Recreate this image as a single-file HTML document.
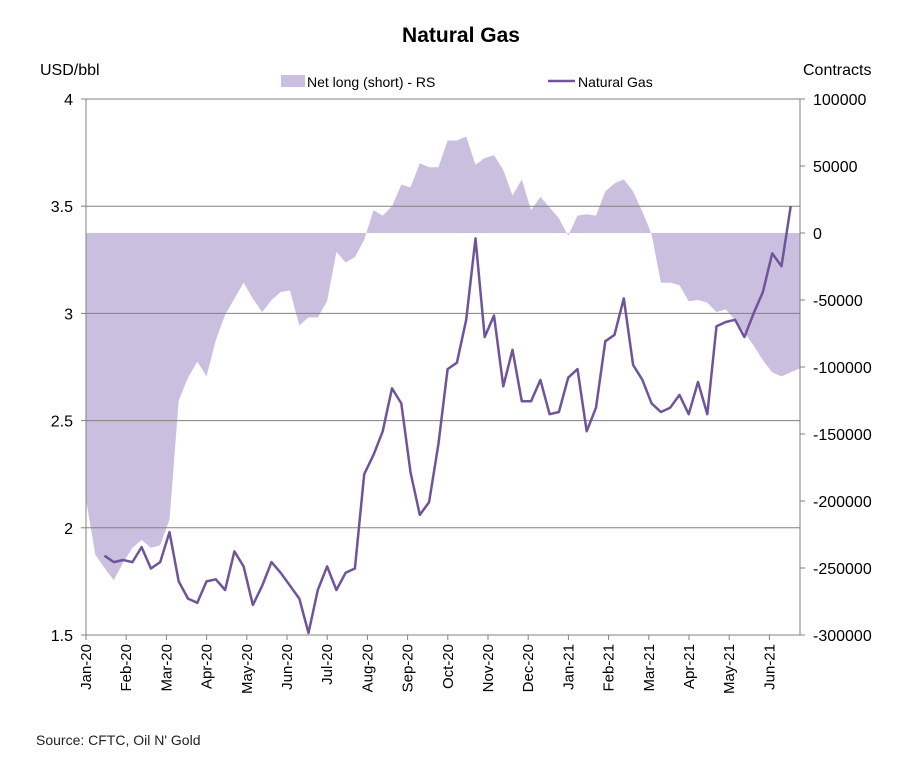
<!DOCTYPE html>
<html><head><meta charset="utf-8"><style>
body{margin:0;background:#fff;}
svg{display:block;font-family:"Liberation Sans",Arial,sans-serif;}
</style></head><body>
<svg id="chart" width="914" height="767" viewBox="0 0 914 767">
<text x="461" y="42" text-anchor="middle" font-size="21" font-weight="bold">Natural Gas</text>
<text x="40" y="75" font-size="16">USD/bbl</text>
<text x="803" y="75" font-size="16">Contracts</text>
<rect x="281" y="75" width="24" height="12" fill="#cbbfe0"/>
<text x="307" y="87" font-size="14">Net long (short) - RS</text>
<line x1="548" y1="81" x2="575" y2="81" stroke="#6f5499" stroke-width="2.5"/>
<text x="578" y="87" font-size="14">Natural Gas</text>
<g id="plot"></g>
<text x="36" y="745" font-size="14" fill="#222">Source: CFTC, Oil N' Gold</text>
</svg>
<script>
const monthLabels=["Jan-20","Feb-20","Mar-20","Apr-20","May-20","Jun-20","Jul-20","Aug-20","Sep-20","Oct-20","Nov-20","Dec-20","Jan-21","Feb-21","Mar-21","Apr-21","May-21","Jun-21"];
const leftTicks=[1.5,2,2.5,3,3.5,4];
const rightTicks=[-300000,-250000,-200000,-150000,-100000,-50000,0,50000,100000];
const netLong=[-199000,-240000,-250000,-259000,-246000,-235000,-229000,-235000,-233000,-214000,-125000,-108000,-96000,-107000,-80000,-61000,-49000,-37000,-49000,-59000,-50000,-44000,-43000,-69000,-63000,-63000,-51000,-14000,-22000,-18000,-5000,17000,13000,20000,36000,34000,52000,49000,49000,69000,69000,72000,51000,56000,58000,47000,28000,40000,17000,27000,19000,11000,-2000,13000,14000,13000,31000,37000,40000,31000,16000,-1000,-37000,-37000,-39000,-51000,-50000,-52000,-59000,-57000,-65000,-74000,-84000,-95000,-104000,-107000,-104000,-101000];
const priceStart=2;
const price=[1.87,1.84,1.85,1.84,1.91,1.81,1.84,1.98,1.75,1.67,1.65,1.75,1.76,1.71,1.89,1.82,1.64,1.73,1.84,1.79,1.73,1.67,1.51,1.71,1.82,1.71,1.79,1.81,2.25,2.34,2.45,2.65,2.58,2.26,2.06,2.12,2.39,2.74,2.77,2.97,3.35,2.89,2.99,2.66,2.83,2.59,2.59,2.69,2.53,2.54,2.70,2.74,2.45,2.56,2.87,2.90,3.07,2.76,2.69,2.58,2.54,2.56,2.62,2.53,2.68,2.53,2.94,2.96,2.97,2.89,3.00,3.10,3.28,3.22,3.50];

const X0=86,X1=800,Y0=99,Y1=635;
const weekStep=(X1-X0)/(netLong.length-1);
const xW=i=>X0+i*weekStep;
const xM=m=>X0+m*40.2;
const yL=v=>Y1-(v-1.5)/(4-1.5)*(Y1-Y0);
const yR=v=>Y1-(v+300000)/400000*(Y1-Y0);
const NS="http://www.w3.org/2000/svg";
const g=document.getElementById('plot');
function mk(t,a){const e=document.createElementNS(NS,t);for(const k in a)e.setAttribute(k,a[k]);g.appendChild(e);return e;}

let d=`M${xW(0)},${yR(0)}`;
netLong.forEach((v,i)=>{d+=` L${xW(i).toFixed(1)},${yR(v).toFixed(1)}`;});
d+=` L${xW(netLong.length-1)},${yR(0)} Z`;
const area=mk('path',{d:d,fill:'#cbbfe0'});



leftTicks.forEach(v=>{
  if(v===1.5)return;
  const l=mk('line',{x1:X0,x2:X1,y1:yL(v),y2:yL(v),stroke:'#808080','stroke-width':1});
  
  
});

const ax=mk('path',{d:`M${X0},${Y0} V${Y1} H${X1} V${Y0}`,fill:'none',stroke:'#808080','stroke-width':1});



leftTicks.forEach(v=>{
  const t=mk('text',{x:73,y:yL(v)+6,'text-anchor':'end','font-size':16});
  t.textContent=String(v);
  
  
  mk('line',{x1:X0-5,x2:X0,y1:yL(v),y2:yL(v),stroke:'#808080'});
});
rightTicks.forEach(v=>{
  const t=mk('text',{x:813,y:yR(v)+6,'font-size':16});
  t.textContent=String(v);
  
  
  mk('line',{x1:X1,x2:X1+5,y1:yR(v),y2:yR(v),stroke:'#808080'});
});
monthLabels.forEach((m,i)=>{
  const x=xM(i);
  mk('line',{x1:x,x2:x,y1:Y1,y2:Y1+5,stroke:'#808080'});
  const t=mk('text',{x:0,y:0,'text-anchor':'end','font-size':15,transform:`translate(${x+5},${Y1+9}) rotate(-90)`});
  t.textContent=m;
  
  
});

const pts=price.map((v,i)=>`${xW(i+priceStart).toFixed(1)},${yL(v).toFixed(1)}`).join(' ');
const pl=mk('polyline',{points:pts,fill:'none',stroke:'#6f5499','stroke-width':2.5,'stroke-linejoin':'round'});


</script>
</body></html>
